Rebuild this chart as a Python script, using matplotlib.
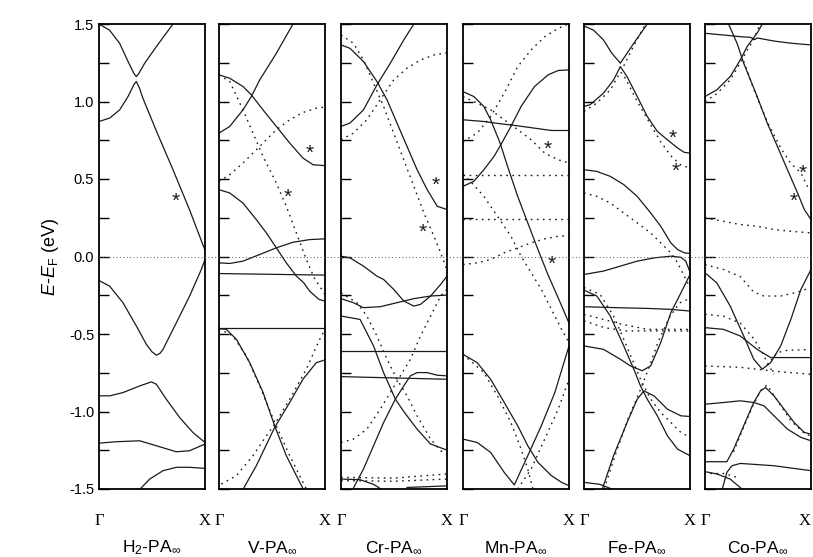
import numpy as np
import matplotlib.pyplot as plt
from matplotlib.lines import Line2D

plt.rcParams['font.family'] = ['Liberation Sans', 'DejaVu Sans']
plt.rcParams['mathtext.fontset'] = 'custom'
plt.rcParams['mathtext.rm'] = 'Liberation Sans'
plt.rcParams['mathtext.it'] = 'Liberation Sans:italic'

# panel titles and k-point labels
panel_names = [r'H$_2$-PA$_\infty$', r'V-PA$_\infty$', r'Cr-PA$_\infty$',
               r'Mn-PA$_\infty$', r'Fe-PA$_\infty$', r'Co-PA$_\infty$']
k_labels = ['Γ', 'X']
y_ticks = [-1.5, -1.0, -0.5, 0.0, 0.5, 1.0, 1.5]

# bands: (k, E) with k from 0 (Γ) to 1 (X)
h2_solid = [
    [(0, 1.50), (0.10, 1.46), (0.195, 1.375), (0.274, 1.258), (0.33, 1.18), (0.352, 1.161), (0.375, 1.18), (0.431, 1.247), (0.541, 1.354), (0.698, 1.50)],
    [(0, 0.871), (0.10, 0.893), (0.195, 0.946), (0.274, 1.032), (0.33, 1.11), (0.352, 1.129), (0.38, 1.09), (0.415, 1.02), (0.541, 0.81), (0.698, 0.56), (0.855, 0.30), (1.0, 0.04)],
    [(0, -0.155), (0.10, -0.191), (0.226, -0.298), (0.352, -0.448), (0.447, -0.567), (0.50, -0.615), (0.541, -0.637), (0.575, -0.625), (0.604, -0.599), (0.73, -0.427), (0.855, -0.255), (0.965, -0.084), (1.0, -0.02)],
    [(0, -0.899), (0.101, -0.899), (0.226, -0.878), (0.384, -0.835), (0.494, -0.809), (0.541, -0.824), (0.635, -0.921), (0.761, -1.039), (0.887, -1.136), (1.0, -1.20)],
    [(0, -1.204), (0.164, -1.195), (0.384, -1.189), (0.541, -1.221), (0.73, -1.26), (0.855, -1.253), (1.0, -1.21)],
    [(0.36, -1.52), (0.478, -1.436), (0.604, -1.382), (0.73, -1.36), (0.855, -1.36), (1.0, -1.367)],
]
h2_dotted = []
h2_stars = [(0.723, 0.356)]

v_solid = [
    [(0, 0.796), (0.101, 0.839), (0.226, 0.946), (0.305, 1.032), (0.384, 1.139), (0.541, 1.311), (0.698, 1.50)],
    [(0, 1.172), (0.101, 1.15), (0.226, 1.097), (0.305, 1.043), (0.415, 0.946), (0.541, 0.839), (0.667, 0.732), (0.792, 0.635), (0.887, 0.592), (1.0, 0.586)],
    [(0, 0.431), (0.101, 0.41), (0.226, 0.345), (0.352, 0.238), (0.447, 0.152), (0.541, 0.056), (0.635, -0.041), (0.73, -0.127), (0.80, -0.17), (0.855, -0.223), (0.943, -0.277), (1.0, -0.288)],
    [(0, -0.041), (0.101, -0.045), (0.226, -0.03), (0.384, 0.013), (0.541, 0.056), (0.698, 0.092), (0.855, 0.109), (1.0, 0.114)],
    [(0, -0.11), (1.0, -0.12)],
    [(0, -0.459), (1.0, -0.459)],
    [(0, -0.466), (0.069, -0.47), (0.164, -0.534), (0.289, -0.684), (0.415, -0.876), (0.525, -1.092), (0.635, -1.285), (0.73, -1.414), (0.802, -1.51)],
    [(0.22, -1.51), (0.352, -1.35), (0.525, -1.103), (0.667, -0.942), (0.792, -0.792), (0.918, -0.685), (1.0, -0.667)],
]
v_dotted = [
    [(0, 1.172), (0.101, 1.129), (0.226, 0.946), (0.321, 0.796), (0.415, 0.646), (0.541, 0.474), (0.635, 0.324), (0.73, 0.152), (0.824, -0.019), (0.9, -0.14), (1.0, -0.245)],
    [(0, 0.485), (0.101, 0.528), (0.226, 0.603), (0.384, 0.71), (0.541, 0.818), (0.667, 0.882), (0.792, 0.929), (0.918, 0.957), (1.0, 0.964)],
    [(0, -0.466), (0.132, -0.513), (0.258, -0.642), (0.384, -0.835), (0.525, -1.07), (0.667, -1.285), (0.761, -1.414), (0.824, -1.50)],
    [(0.022, -1.468), (0.164, -1.414), (0.321, -1.285), (0.447, -1.157), (0.525, -1.082), (0.667, -0.921), (0.824, -0.727), (0.95, -0.534), (1.0, -0.47)],
]
v_stars = [(0.855, 0.667), (0.645, 0.382)]

cr_solid = [
    [(0, 1.365), (0.085, 1.343), (0.212, 1.258), (0.339, 1.129), (0.434, 1.011), (0.528, 0.861), (0.623, 0.71), (0.718, 0.56), (0.813, 0.431), (0.908, 0.324), (1.0, 0.303)],
    [(0, 0.839), (0.085, 0.861), (0.212, 0.946), (0.339, 1.107), (0.465, 1.247), (0.592, 1.397), (0.687, 1.50)],
    [(0, 0.002), (0.085, -0.009), (0.212, -0.062), (0.339, -0.127), (0.402, -0.148), (0.497, -0.212), (0.592, -0.287), (0.687, -0.32), (0.75, -0.309), (0.845, -0.255), (0.94, -0.18), (1.0, -0.127)],
    [(0, -0.272), (0.117, -0.298), (0.212, -0.33), (0.37, -0.324), (0.528, -0.298), (0.687, -0.272), (0.845, -0.255), (1.0, -0.249)],
    [(0, -0.384), (0.18, -0.406), (0.307, -0.577), (0.402, -0.75), (0.513, -0.92), (0.592, -1.0), (0.718, -1.114), (0.845, -1.21), (1.0, -1.249)],
    [(0.117, -1.494), (0.212, -1.371), (0.307, -1.221), (0.402, -1.071), (0.513, -0.92), (0.592, -0.835), (0.655, -0.77), (0.718, -0.749), (0.813, -0.749), (0.908, -0.766), (1.0, -0.77)],
    [(0, -0.609), (1.0, -0.609)],
    [(0, -0.775), (1.0, -0.792)],
    [(0, -1.436), (0.18, -1.44), (0.307, -1.47), (0.40, -1.51)],
    [(0.623, -1.49), (1.0, -1.48)],
]
cr_dotted = [
    [(0, 1.429), (0.117, 1.376), (0.212, 1.268), (0.307, 1.118), (0.402, 0.968), (0.497, 0.796), (0.592, 0.624), (0.687, 0.453), (0.782, 0.281), (0.877, 0.131), (0.94, 0.024), (0.987, -0.062), (1.0, -0.09)],
    [(0, 0.753), (0.117, 0.796), (0.244, 0.882), (0.37, 1.011), (0.497, 1.139), (0.623, 1.215), (0.75, 1.268), (0.877, 1.30), (1.0, 1.315)],
    [(0, -0.234), (0.149, -0.298), (0.244, -0.384), (0.339, -0.513), (0.434, -0.663), (0.528, -0.792), (0.623, -0.899), (0.718, -1.028), (0.845, -1.178), (0.94, -1.253), (1.0, -1.275)],
    [(0, -1.20), (0.117, -1.178), (0.244, -1.114), (0.37, -0.985), (0.465, -0.878), (0.56, -0.77), (0.655, -0.663), (0.75, -0.513), (0.845, -0.384), (0.94, -0.255), (1.0, -0.212)],
    [(0, -1.425), (0.5, -1.43), (1.0, -1.403)],
    [(0, -1.446), (0.5, -1.45), (1.0, -1.436)],
]
cr_stars = [(0.892, 0.459), (0.775, 0.159)]

mn_solid = [
    [(0, 0.453), (0.102, 0.485), (0.197, 0.56), (0.293, 0.646), (0.357, 0.721), (0.452, 0.839), (0.548, 0.968), (0.675, 1.097), (0.803, 1.172), (0.898, 1.20), (1.0, 1.204)],
    [(0, 1.064), (0.102, 1.032), (0.197, 0.968), (0.261, 0.882), (0.35, 0.732), (0.42, 0.582), (0.516, 0.388), (0.611, 0.217), (0.707, 0.045), (0.803, -0.12), (0.9, -0.27), (1.0, -0.43)],
    [(0, 0.882), (0.197, 0.871), (0.357, 0.856), (0.516, 0.843), (0.675, 0.828), (0.834, 0.813), (1.0, 0.813)],
    [(0, -0.631), (0.134, -0.685), (0.261, -0.792), (0.389, -0.942), (0.516, -1.092), (0.611, -1.221), (0.707, -1.328), (0.834, -1.414), (0.93, -1.457), (1.0, -1.479)],
    [(0, -1.178), (0.134, -1.20), (0.261, -1.264), (0.389, -1.393), (0.484, -1.474), (0.611, -1.285), (0.739, -1.092), (0.866, -0.878), (1.0, -0.577)],
]
mn_dotted = [
    [(0, 0.742), (0.134, 0.796), (0.261, 0.903), (0.389, 1.054), (0.516, 1.225), (0.643, 1.333), (0.771, 1.418), (0.898, 1.472), (0.978, 1.494)],
    [(0, 1.032), (0.134, 0.989), (0.261, 0.946), (0.389, 0.882), (0.516, 0.818), (0.643, 0.753), (0.771, 0.667), (0.898, 0.624), (1.0, 0.603)],
    [(0, 0.524), (1.0, 0.524)],
    [(0, 0.245), (1.0, 0.245)],
    [(0, 0.53), (0.07, 0.485), (0.197, 0.388), (0.325, 0.26), (0.452, 0.131), (0.548, 0.002), (0.643, -0.105), (0.739, -0.212), (0.834, -0.341), (0.93, -0.47), (1.0, -0.556)],
    [(0, -0.052), (0.134, -0.041), (0.261, -0.019), (0.389, 0.024), (0.516, 0.056), (0.643, 0.088), (0.771, 0.114), (0.898, 0.131), (1.0, 0.135)],
    [(0, -0.631), (0.197, -0.749), (0.325, -0.899), (0.452, -1.071), (0.548, -1.242), (0.611, -1.371), (0.659, -1.50)],
    [(0.516, -1.50), (0.643, -1.371), (0.771, -1.178), (0.898, -0.985), (1.0, -0.792)],
]
mn_stars = [(0.803, 0.689), (0.834, -0.052)]

fe_solid = [
    [(0, 1.487), (0.089, 1.461), (0.184, 1.397), (0.263, 1.311), (0.343, 1.247), (0.47, 1.376), (0.597, 1.50)],
    [(0, 0.968), (0.057, 0.979), (0.184, 1.054), (0.279, 1.139), (0.343, 1.225), (0.406, 1.161), (0.502, 1.032), (0.597, 0.903), (0.692, 0.807), (0.787, 0.753), (0.883, 0.70), (0.946, 0.672), (1.0, 0.667)],
    [(0, 0.56), (0.121, 0.549), (0.248, 0.517), (0.375, 0.464), (0.502, 0.388), (0.629, 0.281), (0.724, 0.195), (0.819, 0.088), (0.883, 0.045), (0.946, 0.024), (1.0, 0.019)],
    [(0, -0.116), (0.184, -0.094), (0.343, -0.062), (0.502, -0.03), (0.66, -0.009), (0.819, 0.002), (0.914, -0.005), (0.96, -0.03), (1.0, -0.10)],
    [(0, -0.577), (0.184, -0.599), (0.343, -0.663), (0.438, -0.706), (0.549, -0.737), (0.629, -0.706), (0.724, -0.555), (0.819, -0.363), (0.883, -0.277), (0.946, -0.191), (1.0, -0.116)],
    [(0, -0.217), (0.121, -0.255), (0.248, -0.384), (0.375, -0.577), (0.47, -0.727), (0.533, -0.835), (0.597, -0.921), (0.692, -1.028), (0.787, -1.157), (0.883, -1.243), (1.0, -1.285)],
    [(0.168, -1.51), (0.279, -1.285), (0.406, -1.071), (0.502, -0.921), (0.565, -0.867), (0.66, -0.899), (0.787, -0.985), (0.914, -1.028), (1.0, -1.032)],
    [(0, -0.324), (0.3, -0.33), (0.6, -0.335), (0.82, -0.341), (1.0, -0.352)],
    [(0, -1.457), (0.15, -1.47), (0.3, -1.51)],
]
fe_dotted = [
    [(0, 0.936), (0.121, 0.99), (0.248, 1.075), (0.343, 1.19), (0.375, 1.17), (0.502, 1.0), (0.629, 0.85), (0.724, 0.74), (0.819, 0.65), (0.914, 0.59), (1.0, 0.571)],
    [(0.375, 1.23), (0.47, 1.36), (0.581, 1.50)],
    [(0, 0.41), (0.121, 0.388), (0.248, 0.345), (0.375, 0.281), (0.502, 0.217), (0.629, 0.152), (0.724, 0.088), (0.819, 0.024), (0.883, -0.041), (0.946, -0.127), (1.0, -0.2)],
    [(0, -0.2), (0.152, -0.245), (0.279, -0.384), (0.375, -0.534), (0.454, -0.663), (0.533, -0.792), (0.629, -0.921), (0.724, -1.006), (0.819, -1.071), (0.914, -1.135), (1.0, -1.167)],
    [(0.19, -1.50), (0.3, -1.27), (0.42, -1.04), (0.52, -0.88), (0.6, -0.74), (0.7, -0.55), (0.8, -0.40), (0.9, -0.30), (1.0, -0.27)],
    [(0, -0.373), (0.184, -0.406), (0.375, -0.44), (0.6, -0.47), (0.8, -0.47), (1.0, -0.47)],
    [(0, -0.416), (0.2, -0.46), (0.4, -0.48), (0.7, -0.48), (1.0, -0.48)],
]
fe_stars = [(0.835, 0.764), (0.867, 0.549)]

co_solid = [
    [(0, 1.44), (0.175, 1.429), (0.333, 1.418), (0.429, 1.414), (0.47, 1.40), (0.492, 1.41), (0.651, 1.39), (0.81, 1.376), (1.0, 1.365)],
    [(0.222, 1.50), (0.302, 1.376), (0.365, 1.247), (0.429, 1.139), (0.492, 1.032), (0.587, 0.861), (0.683, 0.71), (0.778, 0.56), (0.873, 0.41), (0.937, 0.303), (1.0, 0.238)],
    [(0, 1.032), (0.111, 1.075), (0.238, 1.161), (0.333, 1.268), (0.397, 1.354), (0.444, 1.397), (0.50, 1.45), (0.54, 1.50)],
    [(0, -0.105), (0.111, -0.17), (0.238, -0.32), (0.365, -0.513), (0.46, -0.663), (0.54, -0.727), (0.619, -0.685), (0.714, -0.577), (0.81, -0.405), (0.905, -0.212), (1.0, -0.084)],
    [(0, -0.459), (0.175, -0.47), (0.333, -0.513), (0.492, -0.599), (0.619, -0.652), (0.714, -0.652), (0.873, -0.652), (1.0, -0.652)],
    [(0, -1.324), (0.206, -1.324), (0.27, -1.243), (0.365, -1.092), (0.46, -0.942), (0.524, -0.867), (0.571, -0.845), (0.651, -0.899), (0.746, -0.985), (0.841, -1.071), (0.937, -1.135), (1.0, -1.146)],
    [(0, -0.953), (0.175, -0.942), (0.333, -0.931), (0.46, -0.942), (0.556, -0.963), (0.651, -1.028), (0.778, -1.114), (0.905, -1.167), (1.0, -1.189)],
    [(0, -1.388), (0.111, -1.403), (0.238, -1.436), (0.365, -1.51)],
    [(0.159, -1.51), (0.206, -1.393), (0.254, -1.35), (0.333, -1.335), (0.651, -1.35), (1.0, -1.382)],
]
co_dotted = [
    [(0, 1.0), (0.111, 1.05), (0.238, 1.14), (0.333, 1.25), (0.397, 1.33), (0.46, 1.40), (0.508, 1.48)],
    [(0.365, 1.26), (0.46, 1.08), (0.587, 0.87), (0.714, 0.70), (0.81, 0.60), (0.905, 0.54), (0.968, 0.45), (1.0, 0.42)],
    [(0, 0.249), (0.175, 0.227), (0.333, 0.206), (0.492, 0.195), (0.651, 0.174), (0.81, 0.163), (1.0, 0.152)],
    [(0, -0.052), (0.175, -0.084), (0.333, -0.13), (0.46, -0.23), (0.556, -0.255), (0.714, -0.255), (0.873, -0.23), (1.0, -0.20)],
    [(0, -0.373), (0.175, -0.385), (0.333, -0.43), (0.46, -0.53), (0.54, -0.62), (0.6, -0.70), (0.65, -0.76)],
    [(0, -0.706), (0.333, -0.715), (0.651, -0.74), (1.0, -0.76)],
    [(0.587, -0.70), (0.683, -0.62), (0.778, -0.605), (1.0, -0.60)],
    [(0.27, -1.26), (0.365, -1.10), (0.46, -0.95), (0.54, -0.85), (0.587, -0.83), (0.683, -0.93), (0.81, -1.06), (0.937, -1.14), (1.0, -1.16)],
    [(0.05, -1.40), (0.175, -1.40), (0.333, -1.43)],
]
co_stars = [(0.921, 0.539), (0.841, 0.356)]

solid_sets = [h2_solid, v_solid, cr_solid, mn_solid, fe_solid, co_solid]
dotted_sets = [h2_dotted, v_dotted, cr_dotted, mn_dotted, fe_dotted, co_dotted]
star_sets = [h2_stars, v_stars, cr_stars, mn_stars, fe_stars, co_stars]

fig = plt.figure(figsize=(8.13, 5.57), dpi=100)
W, H = 813, 557
lefts = [99, 219, 341, 463, 584, 705]
pw = 106
top, bot = 24, 489

for i in range(6):
    ax = fig.add_axes([lefts[i] / W, (H - bot) / H, pw / W, (bot - top) / H])
    for band in solid_sets[i]:
        k, e = zip(*band)
        ax.plot(k, e, color='#1a1a1a', lw=0.9)
    for band in dotted_sets[i]:
        k, e = zip(*band)
        ax.plot(k, e, color='#1a1a1a', lw=1.0, ls=(0, (1.2, 3.2)))
    for (k, e) in star_sets[i]:
        ax.text(k, e, '*', ha='center', va='center', fontsize=15, color='#1a1a1a')
    ax.set_xlim(0, 1)
    ax.set_ylim(-1.5, 1.5)
    ax.set_xticks([0, 1])
    ax.set_xticklabels(k_labels, family='Liberation Serif', fontsize=12)
    if i == 5:
        ax.get_xticklabels()[1].set_ha('right')
    ax.tick_params(axis='x', length=0, pad=17)
    ax.set_yticks(y_ticks)
    ax.set_yticks(np.arange(-1.25, 1.5, 0.5), minor=True)
    ax.tick_params(axis='y', which='both', direction='in', length=7, width=1.0, right=False)
    if i == 0:
        ax.set_yticklabels(['%.1f' % t for t in y_ticks], fontsize=10.5)
        ax.set_ylabel(r'$E$-$E$$_\mathrm{F}$ (eV)', fontsize=13, labelpad=6)
    else:
        ax.set_yticklabels([])
    for s in ax.spines.values():
        s.set_linewidth(1.3)
    fig.text((lefts[i] + pw / 2) / W, 1 - 548 / H, panel_names[i],
             ha='center', va='center', fontsize=12.5)

# Fermi level line across all panels
yF = 1 - 257 / H
fig.add_artist(Line2D([lefts[0] / W, 1.0], [yF, yF], color='#555555', lw=0.7, ls=(0, (1, 2.5))))

fig.savefig('out.png', dpi=100)
